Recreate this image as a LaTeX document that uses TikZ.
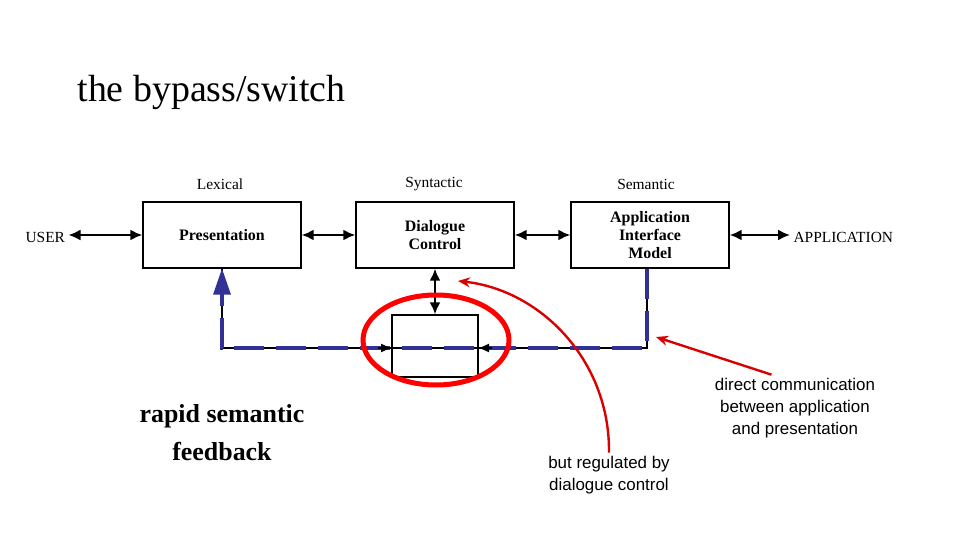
\documentclass[tikz,border=0pt]{standalone}
\usepackage{fontspec}
\setmainfont{Liberation Serif}
\newfontfamily\sansf{Liberation Sans}
\usetikzlibrary{arrows.meta}
\definecolor{dashblue}{RGB}{50,50,150}
\begin{document}
\begin{tikzpicture}[x=1bp,y=-1bp,
  blk/.style={draw, line width=1.4bp, minimum width=158bp, minimum height=66bp, inner sep=0pt, align=center, font=\fontsize{16}{18}\selectfont\bfseries},
  lvl/.style={font=\fontsize{15.5}{17}\selectfont},
  dbl/.style={{Latex[length=12bp,width=11bp]}-{Latex[length=12bp,width=11bp]}, line width=2bp},
  note/.style={font=\sansf\fontsize{17}{22}\selectfont, align=center},
  red/.style={draw=red!85!black, line width=2.4bp, -{Stealth[length=12bp,width=10bp]}},
  bluedash/.style={draw=dashblue, line width=4.5bp, dash pattern=on 30bp off 12bp}
]
\useasboundingbox (0,0) rectangle (960,540);
\node[anchor=west, font=\fontsize{38}{40}\selectfont] (title) at (74,92) {the bypass/switch};

\node[blk] (pres) at (222,235) {Presentation};
\node[blk] (dlg) at (435,235) {Dialogue\\Control};
\node[blk] (aim) at (650,235) {Application\\Interface\\Model};
\node[draw, line width=1.4bp, minimum width=86bp, minimum height=62bp] (sw) at (435,346) {};

\node[lvl] (lex) at (220,184) {Lexical};
\node[lvl] (syn) at (434,184) {Syntactic};
\node[lvl] (sem) at (646,184) {Semantic};
\node[lvl, anchor=west] (user) at (22,237) {USER};
\node[lvl, anchor=west] (app) at (790,237) {APPLICATION};

\draw[dbl] (user.east |- pres.west) -- (pres.west);
\draw[dbl] (pres.east) -- (dlg.west);
\draw[dbl] (dlg.east) -- (aim.west);
\draw[dbl] (aim.east) -- (app.west |- aim.east);
\draw[dbl] (dlg.south) -- (sw.north);

\coordinate (c1) at (647,348);
\coordinate (c2) at (222,348);
\coordinate (lin) at (392,348);
\coordinate (rin) at (478,348);
\draw[line width=1.4bp] (aim.south -| c1) -- (c1) -- (c2) -- (pres.south);
\draw[bluedash] (aim.south -| c1) -- (c1) -- (c2) -- ([yshift=-24bp]pres.south);
\fill[dashblue] (pres.south) -- ++(-9,26) -- ++(18,0) -- cycle;
\draw[-{Latex[length=11bp,width=9bp]}, line width=1.4bp] ([xshift=-14bp]lin) -- (lin);
\draw[-{Latex[length=11bp,width=9bp]}, line width=1.4bp] ([xshift=14bp]rin) -- (rin);

\draw[draw=red, line width=5bp] (436,340) ellipse [x radius=73, y radius=45];

\node[align=center, font=\bfseries\fontsize{26}{38}\selectfont] (fb) at (222,433) {rapid semantic\\feedback};
\node[note] (reg) at (609,475) {but regulated by\\dialogue control};
\node[note] (dir) at (795,408) {direct communication\\between application\\and presentation};
\coordinate (t1) at (458,281);
\coordinate (t2) at (656,337);
\draw[red] (reg.north) .. controls (610,360) and (540,290) .. (t1);
\draw[red] (dir.north west) ++(60,0) -- (t2);
\end{tikzpicture}
\end{document}
